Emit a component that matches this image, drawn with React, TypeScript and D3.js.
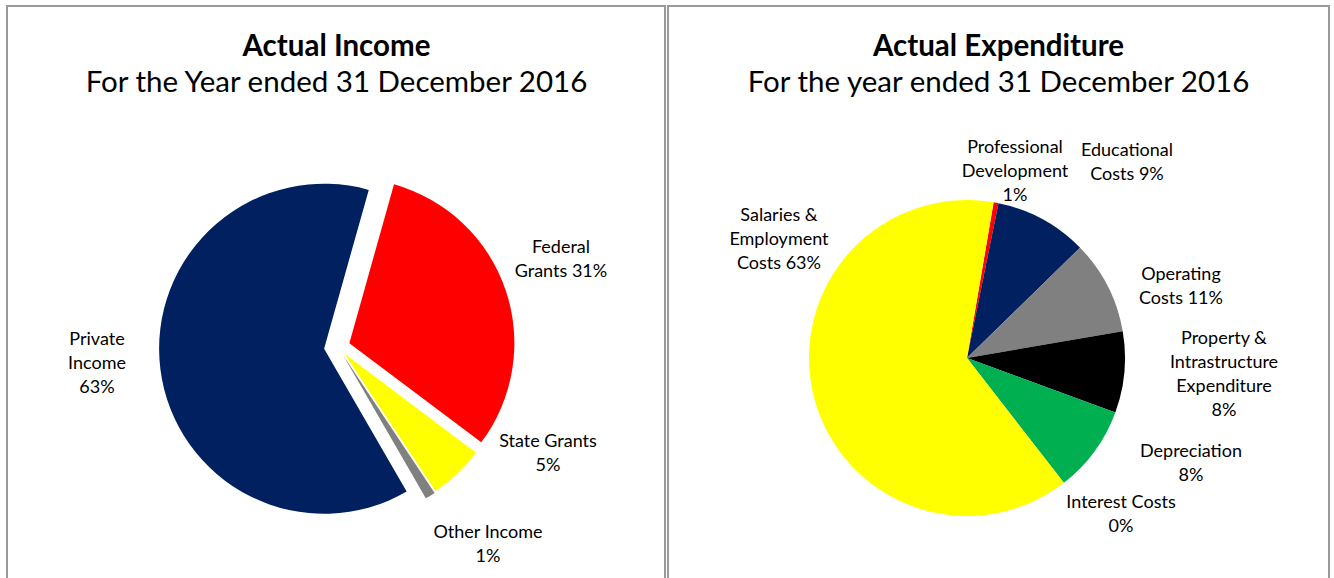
import React from 'react';
import * as d3 from 'd3';

// ---------- DATA ----------
const incomeCategories = ['Federal Grants', 'State Grants', 'Other Income', 'Private Income'];
const incomeValues = [30.9, 5.4, 1.0, 62.7];
const incomeLabelLines = [
  ['Federal', 'Grants 31%'],
  ['State Grants', '5%'],
  ['Other Income', '1%'],
  ['Private', 'Income', '63%'],
];

const expenditureCategories = [
  'Professional Development',
  'Educational Costs',
  'Operating Costs',
  'Property & Intrastructure Expenditure',
  'Depreciation',
  'Interest Costs',
  'Salaries & Employment Costs',
];
const expenditureValues = [0.5, 9.5, 9.6, 8.3, 8.9, 0, 63.2];
const expenditureLabelLines = [
  ['Professional', 'Development', '1%'],
  ['Educational', 'Costs 9%'],
  ['Operating', 'Costs 11%'],
  ['Property &', 'Intrastructure', 'Expenditure', '8%'],
  ['Depreciation', '8%'],
  ['Interest Costs', '0%'],
  ['Salaries &', 'Employment', 'Costs 63%'],
];

const incomeTitle = 'Actual Income';
const incomeSubtitle = 'For the Year ended 31 December 2016';
const expenditureTitle = 'Actual Expenditure';
const expenditureSubtitle = 'For the year ended 31 December 2016';

// ---------- STYLE / LAYOUT ----------
const incomeColors = ['#FF0000', '#FFFF00', '#808080', '#002060'];
const expenditureColors = ['#FF0000', '#002060', '#808080', '#000000', '#00B050', '#7030A0', '#FFFF00'];

const FONT = 'Lato, "Open Sans", sans-serif';

const incomeLayout = {
  cx: 338, cy: 347, r: 165, start: 15.7,
  explode: [12, 9, 10, 14],
  labels: [[561, 259], [548, 452.5], [488, 544], [97, 363]],
};
const expenditureLayout = {
  cx: 967, cy: 358, r: 158, start: 9.7,
  explode: [0, 0, 0, 0, 0, 0, 0],
  labels: [[1015, 171], [1127, 162], [1181, 286], [1224, 374], [1191, 463], [1121, 514], [779, 238.5]],
};

const panels = [
  { x: 7, w: 658, titleX: 336.5, title: incomeTitle, subtitle: incomeSubtitle },
  { x: 668, w: 661, titleX: 998.5, title: expenditureTitle, subtitle: expenditureSubtitle },
];

type Layout = typeof incomeLayout;

function Pie({ values, colors, labels, layout }: { values: number[]; colors: string[]; labels: string[][]; layout: Layout }) {
  const a0 = (layout.start * Math.PI) / 180;
  const pie = d3.pie<number>().sort(null).value((d) => d).startAngle(a0).endAngle(a0 + 2 * Math.PI);
  const arcs = pie(values);
  const arc = d3.arc<d3.PieArcDatum<number>>().innerRadius(0).outerRadius(layout.r);
  const lh = 24;
  return (
    <g>
      {arcs.map((a, i) => {
        if (a.endAngle - a.startAngle <= 0) return null;
        const mid = (a.startAngle + a.endAngle) / 2;
        const e = layout.explode[i] || 0;
        const dx = layout.cx + Math.sin(mid) * e;
        const dy = layout.cy - Math.cos(mid) * e;
        return <path key={i} d={arc(a) || ''} transform={`translate(${dx},${dy})`} fill={colors[i]} />;
      })}
      {labels.map((lines, i) => {
        const [lx, ly] = layout.labels[i];
        const top = ly - ((lines.length - 1) * lh) / 2;
        return (
          <text key={i} x={lx} textAnchor="middle" fontFamily={FONT} fontSize={18} fill="#000">
            {lines.map((t, j) => (
              <tspan key={j} x={lx} y={top + j * lh} dy="0.35em">{t}</tspan>
            ))}
          </text>
        );
      })}
    </g>
  );
}

export default function App() {
  return (
    <svg width={1334} height={578} style={{ position: 'absolute', left: 0, top: 0, background: '#fff' }}>
      <rect x={0} y={0} width={1334} height={578} fill="#fff" />
      {panels.map((p, i) => (
        <g key={i}>
          <rect x={p.x} y={6} width={p.w} height={620} fill="none" stroke="#9a9a9a" strokeWidth={2} />
          <text x={p.titleX} y={56} textAnchor="middle" fontFamily={FONT} fontWeight="bold" fontSize={29.5} fill="#000">{p.title}</text>
          <text x={p.titleX} y={92} textAnchor="middle" fontFamily={FONT} fontSize={29.5} fill="#000">{p.subtitle}</text>
        </g>
      ))}
      <Pie values={incomeValues} colors={incomeColors} labels={incomeLabelLines} layout={incomeLayout} />
      <Pie values={expenditureValues} colors={expenditureColors} labels={expenditureLabelLines} layout={expenditureLayout} />
    </svg>
  );
}
